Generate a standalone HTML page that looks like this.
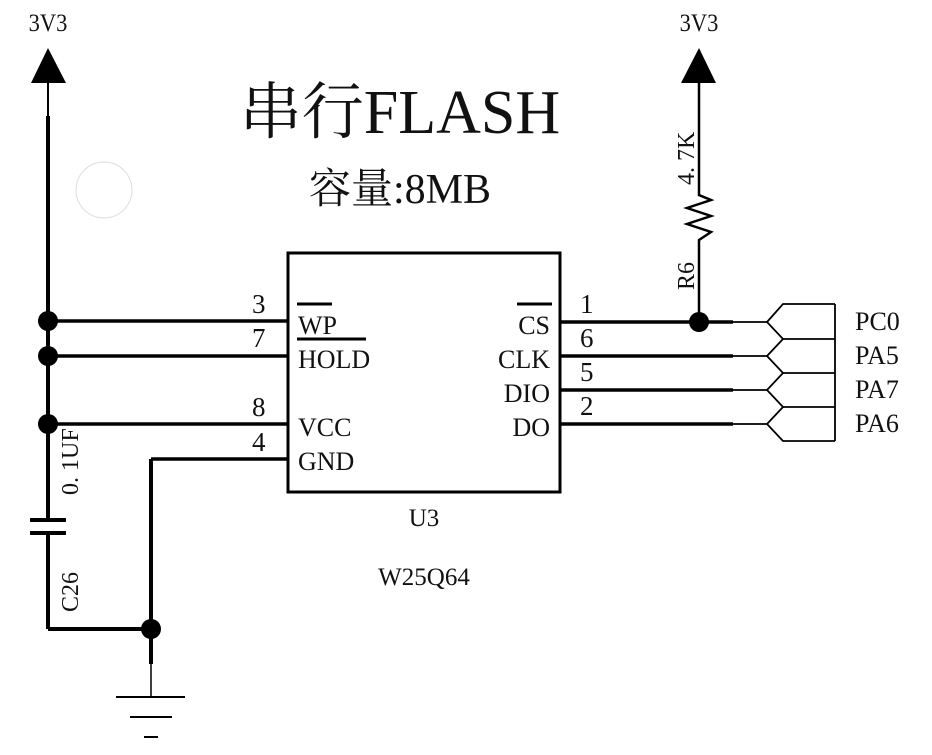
<!DOCTYPE html>
<html><head><meta charset="utf-8"><style>
html,body{margin:0;padding:0;background:#fff;}
svg text{font-family:"Liberation Serif","Noto Serif CJK SC",serif;fill:#111;}
</style></head><body>
<svg width="932" height="750" viewBox="0 0 932 750" xmlns="http://www.w3.org/2000/svg">
<rect width="932" height="750" fill="#fff"/>
<!-- left 3V3 -->
<text x="48" y="31" font-size="25" text-anchor="middle" transform="translate(48 0) scale(0.9 1) translate(-48 0)">3V3</text>
<polygon points="48,48 31,83 66,83" fill="#000"/>
<line x1="48" y1="83" x2="48" y2="117" stroke="#000" stroke-width="2"/>
<line x1="48" y1="116" x2="48" y2="520" stroke="#000" stroke-width="4"/>
<line x1="48" y1="533" x2="48" y2="629" stroke="#000" stroke-width="4"/>
<line x1="30" y1="520" x2="66" y2="520" stroke="#000" stroke-width="4"/>
<line x1="30" y1="533" x2="66" y2="533" stroke="#000" stroke-width="4"/>
<line x1="48" y1="629" x2="151" y2="629" stroke="#000" stroke-width="4"/>
<circle cx="104" cy="190" r="28" fill="none" stroke="#ddd" stroke-width="1"/>
<text transform="translate(78 495) rotate(-90)" font-size="24">0. 1UF</text>
<text transform="translate(78 612) rotate(-90)" font-size="24">C26</text>
<!-- GND -->
<line x1="151" y1="459" x2="151" y2="664" stroke="#000" stroke-width="4"/>
<line x1="151" y1="660" x2="151" y2="697" stroke="#000" stroke-width="1.5"/>
<line x1="151" y1="459" x2="288" y2="459" stroke="#000" stroke-width="3.5"/>
<line x1="116" y1="697" x2="185" y2="697" stroke="#000" stroke-width="2"/>
<line x1="130" y1="717" x2="172" y2="717" stroke="#000" stroke-width="2"/>
<line x1="144" y1="737" x2="158" y2="737" stroke="#000" stroke-width="2"/>
<circle cx="151" cy="629" r="10" fill="#000"/>
<!-- left pins -->
<line x1="48" y1="321" x2="288" y2="321" stroke="#000" stroke-width="3.5"/>
<line x1="48" y1="356" x2="288" y2="356" stroke="#000" stroke-width="3.5"/>
<line x1="48" y1="424" x2="288" y2="424" stroke="#000" stroke-width="3.5"/>
<circle cx="48" cy="321" r="10" fill="#000"/>
<circle cx="48" cy="356" r="10" fill="#000"/>
<circle cx="48" cy="424" r="10" fill="#000"/>
<text x="252" y="313" font-size="27">3</text>
<text x="252" y="347" font-size="27">7</text>
<text x="252" y="416" font-size="27">8</text>
<text x="252" y="451" font-size="27">4</text>
<!-- chip -->
<rect x="288" y="253" width="272" height="239" fill="none" stroke="#000" stroke-width="3"/>
<g font-size="26">
<text x="298" y="334">WP</text>
<line x1="297" y1="304" x2="332" y2="304" stroke="#000" stroke-width="3"/>
<line x1="297" y1="339" x2="366" y2="339" stroke="#000" stroke-width="3"/>
<text x="298" y="368">HOLD</text>
<text x="298" y="436">VCC</text>
<text x="298" y="470">GND</text>
<text x="550" y="334" text-anchor="end">CS</text>
<line x1="517" y1="304" x2="552" y2="304" stroke="#000" stroke-width="3"/>
<text x="550" y="368" text-anchor="end">CLK</text>
<text x="550" y="402" text-anchor="end">DIO</text>
<text x="550" y="436" text-anchor="end">DO</text>
</g>
<text x="424" y="526" font-size="25" text-anchor="middle">U3</text>
<text x="424" y="585" font-size="25" text-anchor="middle">W25Q64</text>
<!-- right pins -->
<g stroke="#000" stroke-width="3.5">
<line x1="560" y1="322" x2="733" y2="322"/>
<line x1="560" y1="356" x2="733" y2="356"/>
<line x1="560" y1="390" x2="733" y2="390"/>
<line x1="560" y1="424" x2="733" y2="424"/>
</g>
<g stroke="#000" stroke-width="1.8" fill="none">
<line x1="733" y1="322" x2="767" y2="322"/>
<line x1="733" y1="356" x2="767" y2="356"/>
<line x1="733" y1="390" x2="767" y2="390"/>
<line x1="733" y1="424" x2="767" y2="424"/>
<polyline points="835,304 783,304 767,322 783,339 835,339"/>
<polyline points="783,339 767,356 783,373 835,373"/>
<polyline points="783,373 767,390 783,407 835,407"/>
<polyline points="783,407 767,424 783,441 835,441"/>
<line x1="835" y1="304" x2="835" y2="441"/>
</g>
<text x="580" y="313" font-size="27">1</text>
<text x="580" y="347" font-size="27">6</text>
<text x="580" y="381" font-size="27">5</text>
<text x="580" y="415" font-size="27">2</text>
<g font-size="26">
<text x="855" y="330">PC0</text>
<text x="855" y="364">PA5</text>
<text x="855" y="398">PA7</text>
<text x="855" y="432">PA6</text>
</g>
<!-- right 3V3 + resistor -->
<text x="699" y="31" font-size="25" text-anchor="middle" transform="translate(699 0) scale(0.9 1) translate(-699 0)">3V3</text>
<polygon points="699,48 681,83 716,83" fill="#000"/>
<polyline points="699,83 699,195 711,200 687,208 711,216 687,224 711,232 699,240 699,322" fill="none" stroke="#000" stroke-width="2.5"/>
<circle cx="699" cy="322" r="10" fill="#000"/>
<text transform="translate(694 185) rotate(-90)" font-size="24">4. 7K</text>
<text transform="translate(694 290) rotate(-90)" font-size="24">R6</text>
<!-- titles -->
<text x="400" y="133" font-size="62" text-anchor="middle">串行FLASH</text>
<text x="400" y="203" font-size="42" text-anchor="middle">容量:8MB</text>
</svg>
</body></html>
